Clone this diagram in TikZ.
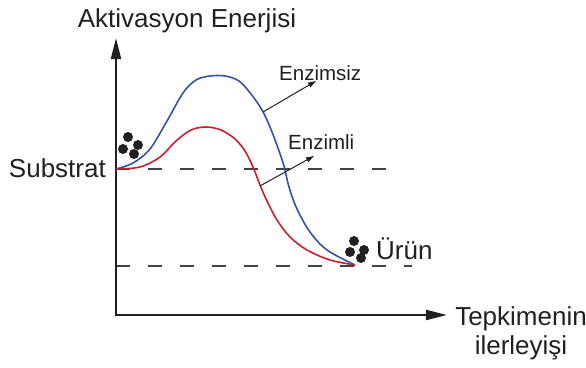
\documentclass[tikz,border=0pt]{standalone}
\usepackage{fontspec}
\setmainfont{Liberation Sans}
\usetikzlibrary{arrows.meta}
\definecolor{txt}{HTML}{231F20}
\definecolor{cblue}{HTML}{3653A3}
\definecolor{cred}{HTML}{C8202F}
\begin{document}
\begin{tikzpicture}[x=1pt,y=-1pt,
  bigtext/.style={inner sep=0pt,text=txt,font=\fontsize{26}{29}\selectfont},
  smalltext/.style={inner sep=0pt,text=txt,font=\fontsize{20.5}{24}\selectfont},
  axisline/.style={line width=2.2pt,draw=txt,{Triangle[length=21pt,width=10pt]}-{Triangle[length=21pt,width=10pt]}},
  levelline/.style={line width=1.3pt,draw=txt!85,dash pattern=on 14pt off 18pt},
  curveblue/.style={line width=1.6pt,draw=cblue,smooth,tension=0.55},
  curvered/.style={line width=1.6pt,draw=cred,smooth,tension=0.55},
  pointer/.style={line width=1pt,draw=txt,-{Triangle[length=8pt,width=5pt]}},
  dot/.style={circle,fill=txt,inner sep=0pt,minimum size=10pt}]
\useasboundingbox (0,0) rectangle (586,367);
% axes
\coordinate (ytip) at (116,38);
\coordinate (origin) at (116,315);
\coordinate (xtip) at (447,315);
% level lines
\coordinate (s0) at (116,169);
\coordinate (s1) at (388,169);
\coordinate (p0) at (116,266);
\coordinate (p1) at (412,266);
\draw[levelline] (s0) -- (s1);
\draw[levelline] (p0) -- (p1);
\draw[axisline] (ytip) -- (origin) -- (xtip);
% curves
\draw[curveblue] plot coordinates {(116,169) (133,163) (150,149) (167,121) (183,93) (196,80) (210,76) (225,76) (239,81) (251,94) (262,110) (270,127) (278,148) (284,166) (289,187) (297,209) (310,232) (327,250) (355,265)};
\draw[curvered] plot coordinates {(116,169) (140,167) (160,157) (176,141) (191,130) (206,127) (221,130) (235,139) (245,151) (253,167) (260,185) (267,201) (277,220) (290,237) (307,250) (330,260) (355,265)};
% labels
\node[bigtext,anchor=base] (ylabel) at (187,27) {Aktivasyon Enerjisi};
\node[bigtext,anchor=base east] (substrat) at (106,177) {Substrat};
\node[bigtext,anchor=base west] (urun) at (376,259) {Ürün};
\node[bigtext,anchor=base,align=center] (xlabel) at (521,354) {Tepkimenin\\ilerleyişi};
\node[smalltext,anchor=base west] (enzimsiz) at (279,80) {Enzimsiz};
\node[smalltext,anchor=base west] (enzimli) at (288,149) {Enzimli};
% pointers
\coordinate (a0) at (263,112);
\coordinate (a1) at (316,81);
\coordinate (b0) at (260,186);
\coordinate (b1) at (314,156);
\draw[pointer] (a0) -- (a1);
\draw[pointer] (b0) -- (b1);
% molecules
\node[dot] (m1) at (128,137) {};
\node[dot] (m2) at (123,149) {};
\node[dot] (m3) at (138,145) {};
\node[dot] (m4) at (134,154) {};
\node[dot] (n1) at (354,241) {};
\node[dot] (n2) at (350,252) {};
\node[dot] (n3) at (364,250) {};
\node[dot] (n4) at (361,258) {};
\end{tikzpicture}
\end{document}
